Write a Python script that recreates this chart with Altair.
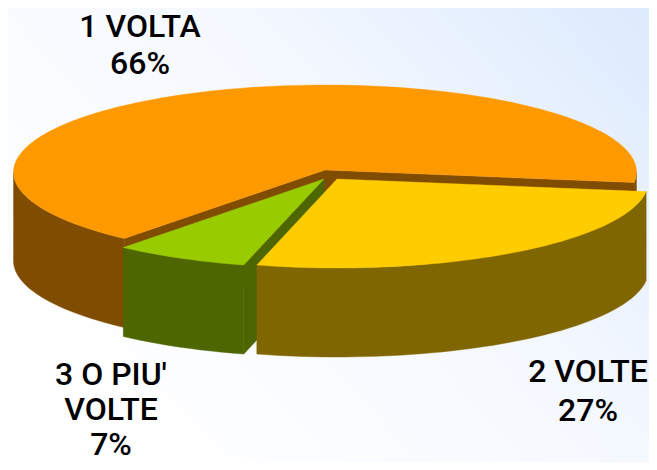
import numpy as np
import pandas as pd
import altair as alt

# values
categories = ["2 VOLTE", "3 O PIU' VOLTE", "1 VOLTA"]
shares = [27.2, 7, 65.8]
top_colors = ["#FFCC00", "#99CC00", "#FF9900"]
side_colors = ["#806600", "#4D6600", "#804D00"]
label_lines = [["2 VOLTE", "27%"], ["3 O PIU'", "VOLTE", "7%"], ["1 VOLTA", "66%"]]

# layout of the 3D pie, in picture pixels
W, H = 649, 462
CX, CY, RX, RY, DEPTH = 325, 172, 311.5, 87, 89
APEX_LIFT = 2
START = 7
offsets = [(12, 9), (-1, 9), (0, 0)]
label_x = [588, 111, 140]
label_first_baseline = [382, 385, 37]
LINE_STEP = [38.5, 35, 36.5]
FONT = "Roboto"
FONT_SIZE = 32

ends = START + np.cumsum(shares) * 3.6
starts = np.concatenate([[START], ends[:-1]])


def arc(k, a, b, dy=0):
    n = max(int(abs(b - a) / 2), 2)
    t = np.radians(np.linspace(a, b, n + 1))
    ox, oy = offsets[k]
    return list(zip(CX + ox + RX * np.cos(t), CY + oy + RY * np.sin(t) + dy))


def apex(k, dy=0):
    return [(CX + offsets[k][0], CY - APEX_LIFT + offsets[k][1] + dy)]


def top(k):
    return apex(k) + arc(k, starts[k], ends[k])


def wall(k, a, b):
    return arc(k, a, b) + arc(k, b, a, DEPTH)


def face(k, a):
    e = arc(k, a, a)[:1]
    e2 = [(e[0][0], e[0][1] + DEPTH)]
    return apex(k) + e + e2 + apex(k, DEPTH)


Y, G, O = 0, 1, 2
pieces = [
    (wall(O, starts[O], 180), side_colors[O]),
    (wall(O, 360, ends[O]), side_colors[O]),
    (face(O, starts[O]), side_colors[O]),
    (face(O, ends[O]), side_colors[O]),
    (top(O), top_colors[O]),
    (face(G, starts[G]), side_colors[G]),
    (wall(G, starts[G], ends[G]), side_colors[G]),
    (top(G), top_colors[G]),
    (wall(Y, starts[Y], ends[Y]), side_colors[Y]),
    (top(Y), top_colors[Y]),
]

xs = alt.Scale(domain=[8, W], range=[0, W - 8], nice=False, zero=False)
ys = alt.Scale(domain=[8, H], range=[0, H - 8], nice=False, zero=False)
X = alt.X("x:Q", scale=xs, axis=None)
YY = alt.Y("y:Q", scale=ys, axis=None)

background = alt.Chart(pd.DataFrame({"a": [0]})).mark_rect(
    fill=alt.LinearGradient(
        gradient="linear",
        x1=0, y1=0.65, x2=1, y2=0,
        stops=[
            alt.GradientStop(color="#FFFFFF", offset=0),
            alt.GradientStop(color="#F4F8FF", offset=0.55),
            alt.GradientStop(color="#DCEAFD", offset=1),
        ],
    )
).encode(x=alt.value(0), x2=alt.value(W - 8), y=alt.value(0), y2=alt.value(H - 8))

layers = [background]
for pts, col in pieces:
    df = pd.DataFrame(pts, columns=["x", "y"])
    df["i"] = range(len(df))
    df = pd.concat([df, df.iloc[[0]].assign(i=len(df))])
    layers.append(
        alt.Chart(df)
        .mark_line(filled=True, fill=col, stroke=col, strokeWidth=0.4, interpolate="linear")
        .encode(x=X, y=YY, order="i:Q")
    )

rows = []
for k, lines in enumerate(label_lines):
    for j, txt in enumerate(lines):
        rows.append({"x": label_x[k], "y": label_first_baseline[k] + j * LINE_STEP[k], "t": txt})
layers.append(
    alt.Chart(pd.DataFrame(rows))
    .mark_text(font=FONT, fontSize=FONT_SIZE, fontWeight=500, color="black",
               align="center", baseline="alphabetic")
    .encode(x=X, y=YY, text="t:N")
)

chart = (
    alt.layer(*layers)
    .properties(width=W - 8, height=H - 8, padding=0)
    .configure_view(stroke=None)
)
chart.save("out.html", embed_options={"renderer": "svg", "actions": False})
